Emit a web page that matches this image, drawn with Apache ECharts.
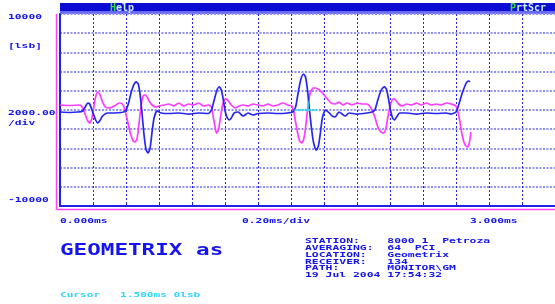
<!DOCTYPE html>
<html><head><meta charset="utf-8">
<script src="https://cdn.jsdelivr.net/npm/echarts@6/dist/echarts.min.js"></script>
<style>html,body{margin:0;padding:0;background:#fff}#c{width:555px;height:304px}</style>
</head><body><div id="c"></div>
<script>
// time axis (ms) and amplitude (lsb)
const xMin = 0, xMax = 3, xStep = 0.2;
const yMin = -10000, yMax = 10000, yStep = 2000;
const yTickLabels = ["10000", "[lsb]", "2000.00", "/div", "-10000"];
const xTickLabels = ["0.000ms", "0.20ms/div", "3.000ms"];

const blueTime = [0,.06,.108,.138,.156,.168,.18,.198,.216,.228,.24,.258,.288,.33,.372,.396,.414,.432,.45,.462,.474,.486,.498,.51,.522,.534,.546,.558,.57,.588,.612,.66,.72,.78,.84,.9,.918,.936,.954,.966,.978,.99,1.002,1.014,1.026,1.038,1.056,1.08,1.11,1.14,1.17,1.2,1.26,1.32,1.38,1.41,1.428,1.44,1.452,1.464,1.476,1.488,1.5,1.512,1.524,1.536,1.548,1.554,1.566,1.578,1.59,1.608,1.632,1.65,1.668,1.68,1.692,1.71,1.728,1.752,1.8,1.86,1.89,1.908,1.926,1.944,1.956,1.968,1.98,1.992,2.004,2.016,2.028,2.04,2.058,2.1,2.16,2.22,2.28,2.34,2.37,2.4,2.418,2.436,2.454,2.466,2.478,2.484];
const blueValue = [-210,-260,-210,-100,420,730,625,-210,-1040,-1350,-1150,-625,-310,-310,-260,-100,625,1875,2710,2920,2710,1560,-520,-2710,-4170,-4480,-3960,-2290,-830,-100,-310,-365,-310,-420,-310,-365,0,1150,2190,2400,2080,1040,-210,-830,-1040,-830,-310,-210,-625,-310,-520,-365,-310,-365,-310,-210,310,1460,2600,3440,3750,3440,2080,0,-1875,-3330,-4060,-4170,-3750,-2400,-830,0,-310,-625,-730,-420,-210,-420,-625,-310,-420,-310,-210,0,1040,1980,2290,2400,2080,1040,-100,-830,-1040,-730,-310,-310,-420,-310,-365,-310,-420,-210,625,1670,2500,2920,3020,2920];

const magTime = [0,.06,.12,.138,.156,.168,.18,.192,.204,.216,.228,.24,.258,.276,.3,.33,.36,.378,.39,.408,.426,.444,.456,.468,.48,.492,.504,.516,.528,.54,.558,.582,.6,.63,.66,.69,.72,.75,.78,.81,.84,.87,.9,.918,.93,.942,.948,.96,.972,.984,.996,1.008,1.02,1.038,1.062,1.086,1.11,1.14,1.17,1.2,1.23,1.26,1.29,1.32,1.35,1.38,1.404,1.416,1.428,1.44,1.452,1.464,1.476,1.488,1.5,1.512,1.524,1.536,1.548,1.572,1.596,1.62,1.644,1.668,1.692,1.716,1.74,1.77,1.8,1.83,1.86,1.884,1.908,1.926,1.944,1.962,1.974,1.986,1.998,2.01,2.022,2.034,2.052,2.076,2.1,2.13,2.16,2.19,2.22,2.25,2.28,2.31,2.34,2.37,2.4,2.412,2.424,2.436,2.448,2.46,2.472,2.484,2.49];
const magValue = [520,470,520,210,-625,-1150,-1350,-940,210,1350,1875,1670,830,310,210,420,730,625,210,-1040,-2400,-3230,-3330,-2920,-1250,520,1460,1560,1350,940,520,310,420,520,625,420,730,420,625,520,730,420,520,310,-830,-1980,-2400,-2080,-830,420,1040,1150,940,520,210,420,520,420,625,520,420,625,420,520,730,520,420,-100,-1250,-2400,-3230,-3440,-3125,-1875,0,1460,2080,2290,2290,2080,1670,1150,730,625,830,520,730,520,730,625,625,210,-730,-1770,-2290,-2400,-1980,-830,210,940,1150,1040,625,420,625,520,730,520,730,520,625,520,730,625,420,-210,-1250,-2500,-3330,-3750,-3850,-3125,-2290];

const cursorTime = 1.5, cursorValue = 0;
const cursorHSpan = [1.42, 1.56];
const cursorVSpan = [-100, 900];

const stationLines = [
  "STATION:    8000 1  Petroza",
  "AVERAGING:  64  PCI",
  "LOCATION:   Geometrix",
  "RECEIVER:   134",
  "PATH:       MONITOR\\GM",
  "19 Jul 2004 17:54:32"
];
const titleText = "GEOMETRIX as";
const cursorText = "Cursor   1.500ms 0lsb";

const BLUE = '#1414f0';
const MONO = '"DejaVu Sans Mono", "Liberation Mono", monospace';

function zip(a, b) { return a.map((t, i) => [t, b[i]]); }

function txt(x, y, text, size, color, sy) {
  return {
    type: 'text', x: x, y: y, scaleY: sy, silent: true, z: 10,
    style: { x: 0, y: 0, text: text, fill: color, font: 'bold ' + size + 'px ' + MONO, verticalAlign: 'middle', align: 'left' }
  };
}

const graphics = [
  { type: 'rect', shape: { x: 60, y: 3, width: 495, height: 8 }, style: { fill: '#0c0cd4' }, silent: true },
  { type: 'rect', shape: { x: 60, y: 11, width: 495, height: 3 }, style: { fill: '#6a6af8' }, silent: true },
  { type: 'text', x: 110, y: 8, silent: true, z: 11, style: { x: 0, y: 0, text: '{g|H}{w|elp}', verticalAlign: 'middle', font: 'bold 10px ' + MONO, rich: { g: { fill: '#30e030', font: 'bold 10px ' + MONO }, w: { fill: '#c8f0ff', font: 'bold 10px ' + MONO } } } },
  { type: 'text', x: 510, y: 8, silent: true, z: 11, style: { x: 0, y: 0, text: '{g|P}{w|rtScr}', verticalAlign: 'middle', font: 'bold 10px ' + MONO, rich: { g: { fill: '#30e030', font: 'bold 10px ' + MONO }, w: { fill: '#c8f0ff', font: 'bold 10px ' + MONO } } } },
  { type: 'line', shape: { x1: 56.5, y1: 14, x2: 56.5, y2: 209.5 }, style: { stroke: '#ff40ff', lineWidth: 1.5 }, silent: true },
  { type: 'line', shape: { x1: 56.5, y1: 209.5, x2: 555, y2: 209.5 }, style: { stroke: '#ff40ff', lineWidth: 1.5 }, silent: true },
  txt(8, 17.5, yTickLabels[0], 11.3, BLUE, 0.65),
  txt(8, 46, yTickLabels[1], 11.3, BLUE, 0.65),
  txt(8, 113, yTickLabels[2], 11.3, BLUE, 0.65),
  txt(8, 123, yTickLabels[3], 11.3, BLUE, 0.65),
  txt(8, 200.5, yTickLabels[4], 11.3, BLUE, 0.65),
  txt(60, 221.5, xTickLabels[0], 11.3, BLUE, 0.65),
  txt(242, 221.5, xTickLabels[1], 11.3, BLUE, 0.65),
  txt(470, 221.5, xTickLabels[2], 11.3, BLUE, 0.65),
  txt(60, 251, titleText, 22.6, BLUE, 0.72),
  txt(60, 295, cursorText, 11.1, '#30d8ff', 0.6)
];
stationLines.forEach((s, i) => graphics.push(txt(305, 241.3 + i * 6.88, s, 11.4, BLUE, 0.55)));

const chart = echarts.init(document.getElementById('c'), null, { renderer: 'canvas' });
chart.setOption({
  animation: false,
  backgroundColor: '#ffffff',
  grid: { left: 60, top: 14, width: 500, height: 192 },
  xAxis: {
    type: 'value', min: xMin, max: xMax, interval: xStep,
    axisLabel: { show: false },
    axisLine: { show: true, onZero: false, lineStyle: { color: '#2020ee', width: 2 } },
    axisTick: { show: true, inside: true, length: 4, lineStyle: { color: '#2020ee' } },
    splitLine: { show: true, lineStyle: { color: '#2424e8', width: 1, type: [2, 2] } }
  },
  yAxis: {
    type: 'value', min: yMin, max: yMax, interval: yStep,
    axisLabel: { show: false },
    axisLine: { show: true, lineStyle: { color: '#2020ee', width: 2 } },
    axisTick: { show: false },
    splitLine: { show: true, lineStyle: { color: '#9090f2', width: 2, type: [2, 1.5] } }
  },
  series: [
    {
      type: 'line', data: zip(magTime, magValue), showSymbol: false, smooth: 0.2,
      lineStyle: { color: '#ff3cff', width: 1.7 }, z: 3
    },
    {
      type: 'line', data: zip(blueTime, blueValue), showSymbol: false, smooth: 0.2,
      lineStyle: { color: '#2626ee', width: 1.7 }, z: 4,
      markLine: {
        silent: true, symbol: 'none', label: { show: false },
        lineStyle: { color: '#30e0e8', width: 1.5, type: 'solid' },
        data: [
          [{ coord: [cursorHSpan[0], cursorValue] }, { coord: [cursorHSpan[1], cursorValue] }],
          [{ coord: [cursorTime, cursorVSpan[0]] }, { coord: [cursorTime, cursorVSpan[1]] }]
        ]
      }
    }
  ],
  graphic: graphics
});
</script>
</body></html>
